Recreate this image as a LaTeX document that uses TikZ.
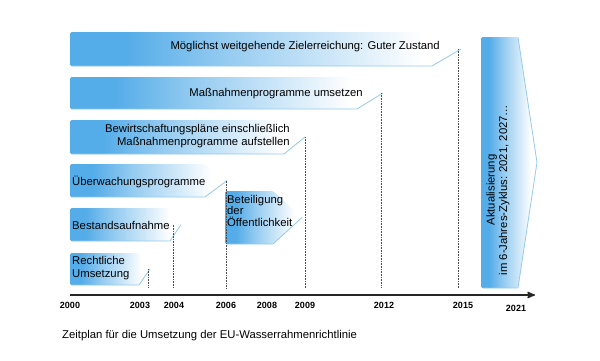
\documentclass[tikz,border=0pt]{standalone}
\usepackage{fontspec}
\setmainfont{Liberation Sans}
\usetikzlibrary{arrows}

\definecolor{phaseblue}{RGB}{84,172,232}
\definecolor{phaseedge}{RGB}{150,202,236}
\pgfdeclarehorizontalshading{phasefade}{100bp}{color(0bp)=(phaseblue); color(25bp)=(phaseblue); color(32bp)=(phaseblue); color(45bp)=(phaseblue!62!white); color(60bp)=(phaseblue!25!white); color(70bp)=(white); color(100bp)=(white)}

\newcommand{\phase}[6]{%
  \shade[phase] (#2,#4) -- (#3-#6,#4) -- (#3,{(#4+#5)/2}) -- (#3-#6,#5) -- (#2,#5) -- cycle;
  \draw[phaseline] (#2+2,#5) -- (#3-#6,#5) -- (#3,{(#4+#5)/2});
  \coordinate (#1) at (#3,{(#4+#5)/2});
}

\begin{document}
\begin{tikzpicture}[x=1pt,y=-1pt,>=stealth',
    phase/.style={shading=phasefade,rounded corners=1.5pt},
    phaseline/.style={draw=phaseedge,line width=0.8pt},
    guide/.style={densely dotted,line width=0.6pt,gray!60!black},
    lbl/.style={inner sep=0pt,font=\fontsize{11.3}{12.5}\selectfont},
    year/.style={inner sep=0pt,font=\bfseries\fontsize{9}{10}\selectfont}]
  \useasboundingbox (0,0) rectangle (600,360);

  \phase{b1}{70}{461}{32}{66}{29}
  \phase{b2}{70}{383}{77}{109}{26}
  \phase{b3}{70}{305}{120}{154}{21}
  \phase{b4}{70}{227}{164}{197}{22}
  \phase{b5}{70}{181}{208}{241}{11}
  \phase{b6}{70}{150}{253}{285}{11}
  \phase{bet}{225}{302}{191}{244}{29}
  \phase{akt}{481}{537}{37}{288}{19}
  \draw[phaseline] (akt) -- (518,37);

  \node[lbl,anchor=east] (t1) at (440,47) {Möglichst weitgehende Zielerreichung: Guter Zustand};
  \node[lbl,anchor=east] (t2) at (363,94) {Maßnahmenprogramme umsetzen};
  \node[lbl,anchor=east,align=right] (t3) at (290,136) {Bewirtschaftungspläne einschließlich\\Maßnahmenprogramme aufstellen};
  \node[lbl,anchor=west] (t4) at (72,182) {Überwachungsprogramme};
  \node[lbl,anchor=west] (t5) at (72,225) {Bestandsaufnahme};
  \node[lbl,anchor=west,align=left] (t6) at (72,268) {Rechtliche\\Umsetzung};
  \node[lbl,anchor=north west,align=left,font=\fontsize{11.3}{11.6}\selectfont] (t7) at (227,195) {Beteiligung\\der\\Öffentlichkeit};
  \node[lbl,rotate=90,align=center] (t8) at (498,190) {Aktualisierung\\im 6-Jahres-Zyklus: 2021, 2027…};

  \foreach \x/\b in {148/b6,173/b5,226/b4,305/b3,381/b2,458/b1}
  {
    \coordinate (g\b) at (\x,288);
    \draw[guide] (g\b |- \b) -- (g\b);
  }

  \coordinate (t0) at (70,295);
  \coordinate (tend) at (535,295);
  \draw[->,line width=1.6pt,black!85] (t0) -- (tend);

  \foreach \yr/\x in {2000/70,2003/140,2004/174,2006/226,2008/267,2009/305,2012/384,2015/463}
    \node[year] (y\yr) at (\x,305) {\yr};
  \node[year] (y2021) at (516,308) {2021};

  \node[lbl,anchor=west] (cap) at (62,336) {Zeitplan für die Umsetzung der EU-Wasserrahmenrichtlinie};
\end{tikzpicture}
\end{document}
